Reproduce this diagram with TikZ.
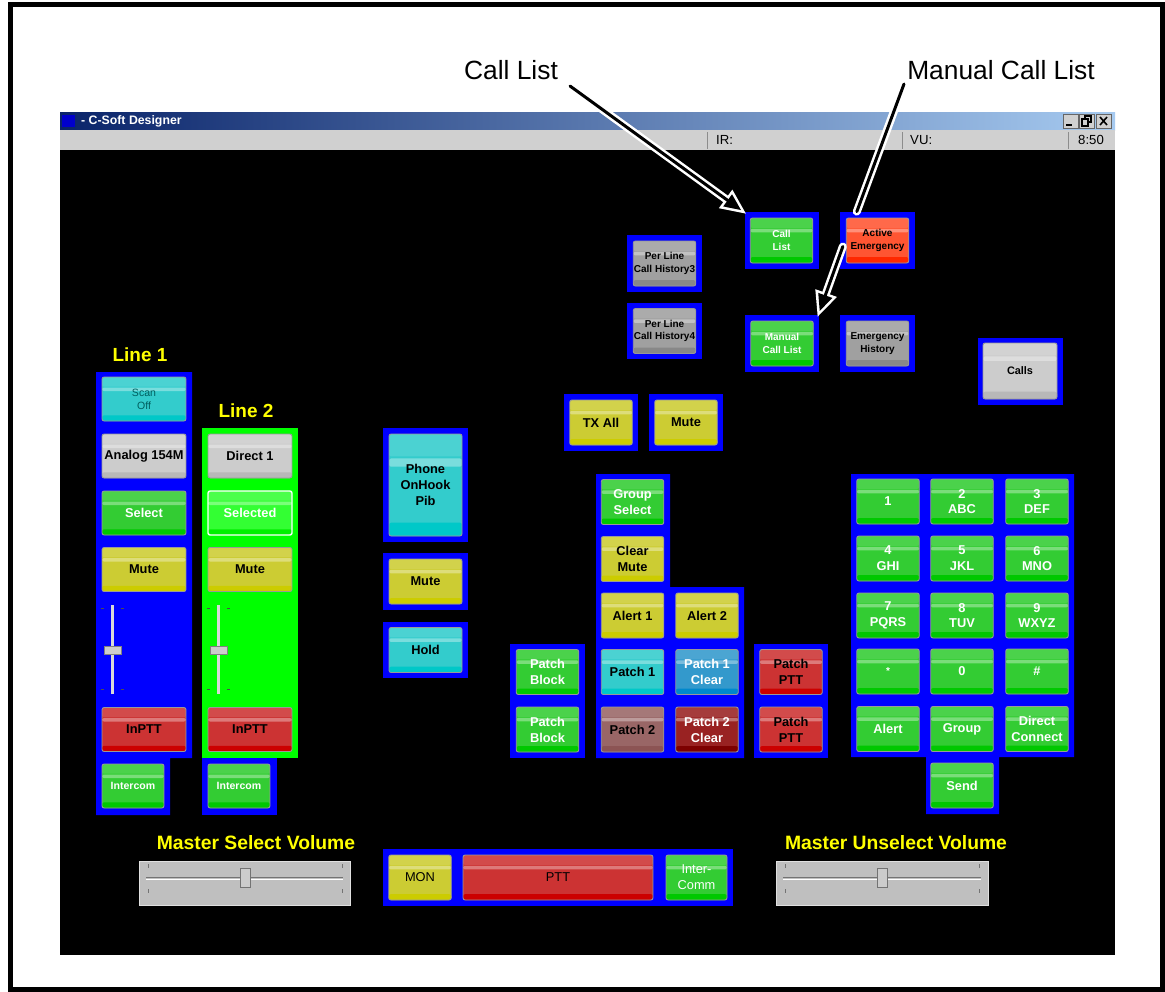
\documentclass[tikz,border=0pt]{standalone}
\usepackage{fontspec}
\setmainfont{Liberation Sans}
\usetikzlibrary{positioning, arrows.meta, calc}
\definecolor{BtnGreen}{RGB}{51,204,51}
\definecolor{GreenLow}{RGB}{0,200,0}
\definecolor{BtnYellow}{RGB}{204,204,51}
\definecolor{YellowLow}{RGB}{204,204,0}
\definecolor{BtnCyan}{RGB}{51,204,204}
\definecolor{CyanLow}{RGB}{0,200,200}
\definecolor{BtnRed}{RGB}{204,51,51}
\definecolor{RedLow}{RGB}{204,0,0}
\definecolor{BtnGray}{RGB}{160,160,160}
\definecolor{GrayLow}{RGB}{136,136,136}
\definecolor{BtnLight}{RGB}{204,204,204}
\definecolor{LightLow}{RGB}{184,184,184}
\definecolor{BtnOrange}{RGB}{255,85,50}
\definecolor{OrangeLow}{RGB}{255,40,0}
\definecolor{BtnBlue}{RGB}{51,153,204}
\definecolor{BlueLow}{RGB}{0,136,204}
\definecolor{BtnBrown}{RGB}{153,102,102}
\definecolor{BrownLow}{RGB}{140,84,84}
\definecolor{BtnMaroon}{RGB}{153,34,34}
\definecolor{MaroonLow}{RGB}{125,0,0}
\definecolor{BtnLime}{RGB}{51,255,51}
\definecolor{LimeLow}{RGB}{0,240,0}
\definecolor{ScanText}{RGB}{0,95,95}
\definecolor{PanelBlue}{RGB}{0,0,255}
\definecolor{PanelLime}{RGB}{0,255,0}
\definecolor{LabelYellow}{RGB}{255,255,0}
\definecolor{TitleDark}{RGB}{10,36,106}
\definecolor{TitleLight}{RGB}{166,202,240}
\definecolor{StatusGray}{RGB}{208,208,208}
\newcommand\btnfont{\fontsize{7.3}{9}\selectfont\bfseries}
\newcommand\tinyfont{\fontsize{5.7}{7.2}\selectfont\bfseries}
\newcommand\lblfont{\fontsize{10.8}{12}\selectfont\bfseries}

\begin{document}
\begin{tikzpicture}[x=0.02cm, y=-0.02cm, every node/.style={font=\btnfont},
    btn/.style 2 args={rectangle, rounded corners=1.2pt, draw=black!40, line width=0.5pt,
      fill=#1, minimum width=1.25cm, minimum height=0.9cm, inner sep=0pt, align=center,
      path picture={
        \fill[white, opacity=0.12] (path picture bounding box.north west) rectangle ($(path picture bounding box.north east)!0.22!(path picture bounding box.south east)$);
        \fill[white, opacity=0.35] ($(path picture bounding box.north west)!0.24!(path picture bounding box.south west)$) rectangle ($(path picture bounding box.north east)!0.32!(path picture bounding box.south east)$);
        \fill[#2] ($(path picture bounding box.north west)!0.87!(path picture bounding box.south west)$) rectangle (path picture bounding box.south east);
      }},
    gbtn/.style={btn={BtnGreen}{GreenLow}, text=white},
    ybtn/.style={btn={BtnYellow}{YellowLow}, text=black},
    cbtn/.style={btn={BtnCyan}{CyanLow}, text=black},
    rbtn/.style={btn={BtnRed}{RedLow}, text=black},
    graybtn/.style={btn={BtnGray}{GrayLow}, text=black},
    lbtn/.style={btn={BtnLight}{LightLow}, text=black},
    obtn/.style={btn={BtnOrange}{OrangeLow}, text=black},
    bbtn/.style={btn={BtnBlue}{BlueLow}, text=white},
    brbtn/.style={btn={BtnBrown}{BrownLow}, text=black},
    mbtn/.style={btn={BtnMaroon}{MaroonLow}, text=white},
    selbtn/.style={btn={BtnLime}{LimeLow}, text=white, draw=white, line width=0.8pt},
    linebtn/.style={minimum width=1.68cm, minimum height=0.88cm},
    midbtn/.style={minimum width=1.46cm},
    panel/.style={fill=PanelBlue},
    yellowlbl/.style={font=\lblfont, text=LabelYellow},
    calloutw/.style={white, line width=0.16cm, line cap=round},
    calloutb/.style={black, line width=0.06cm, line cap=round}]

  \useasboundingbox (0,0) rectangle (1165,991);
  \fill[white] (0,0) rectangle (1165,991);
  \draw[line width=0.1cm] (10.5,4.5) rectangle (1162.5,989.5);

  % Window
  \shade[left color=TitleDark, right color=TitleLight] (60,112) rectangle (1115,130);
  \fill[StatusGray] (60,130) rectangle (1115,150);
  \fill[black] (60,150) rectangle (1115,955);
  \fill[blue!80!black] (62,115) rectangle (75,127);
  \node[anchor=west, text=white, font=\fontsize{7}{8}\selectfont\bfseries] (titletxt) at (75,121) {- C-Soft Designer};
  \filldraw[fill=StatusGray, draw=black!60] (1063,114) rectangle (1078,128);
  \filldraw[fill=StatusGray, draw=black!60] (1079,114) rectangle (1094,128);
  \filldraw[fill=StatusGray, draw=black!60] (1096,114) rectangle (1111,128);
  \draw[line width=1.2pt] (1066,125) -- (1072,125);
  \draw[line width=0.6pt] (1085,116) rectangle (1091,122);
  \filldraw[fill=StatusGray, draw=black, line width=0.6pt] (1082,119) rectangle (1088,126);
  \draw[line width=0.9pt] (1100,117) -- (1107,125) (1107,117) -- (1100,125);
  \draw[black!45] (707,132) -- (707,149) (902,132) -- (902,149) (1068,132) -- (1068,149);
  \node[anchor=west, font=\fontsize{7.5}{9}\selectfont] (irlbl) at (710,140) {IR:};
  \node[anchor=west, font=\fontsize{7.5}{9}\selectfont] (vulbl) at (904,140) {VU:};
  \node[anchor=west, font=\fontsize{7.5}{9}\selectfont] (clocklbl) at (1072,140) {8:50};

  % Panels
  \fill[panel] (745,212) rectangle (819,269);
  \fill[panel] (840,212) rectangle (915,269);
  \fill[panel] (627,235) rectangle (702,292);
  \fill[panel] (627,303) rectangle (702,359);
  \fill[panel] (745,315) rectangle (819,372);
  \fill[panel] (840,315) rectangle (915,372);
  \fill[panel] (978,338) rectangle (1063,405);
  \fill[panel] (96,372) -- (192,372) -- (192,758) -- (170,758) -- (170,815) -- (96,815) -- cycle;
  \fill[PanelLime] (202,428) rectangle (298,758);
  \fill[panel] (202,758) rectangle (277,815);
  \fill[panel] (383,428) rectangle (468,542);
  \fill[panel] (383,553) rectangle (468,610);
  \fill[panel] (383,622) rectangle (468,678);
  \fill[panel] (564,394) rectangle (638,451);
  \fill[panel] (649,394) rectangle (723,451);
  \fill[panel] (596,474) -- (670,474) -- (670,587) -- (744,587) -- (744,758) -- (596,758) -- cycle;
  \fill[panel] (510,644) rectangle (585,758);
  \fill[panel] (754,644) rectangle (828,758);
  \fill[panel] (851,474) -- (1074,474) -- (1074,757) -- (999,757) -- (999,814) -- (926,814) -- (926,757) -- (851,757) -- cycle;
  \fill[panel] (383,849) rectangle (733,906);

  % Call buttons
  \node[gbtn, font=\tinyfont] (calllist) at (781.5,240.5) {Call\\List};
  \node[obtn, font=\tinyfont] (activeem) at (877.5,240.5) {Active\\Emergency};
  \node[graybtn, font=\tinyfont] (hist3) at (664.5,263.5) {Per Line\\Call History3};
  \node[graybtn, font=\tinyfont] (hist4) at (664.5,331) {Per Line\\Call History4};
  \node[gbtn, font=\tinyfont] (manual) at (782,343.5) {Manual\\Call List};
  \node[graybtn, font=\tinyfont] (emhist) at (877.5,343.5) {Emergency\\History};
  \node[lbtn, font=\fontsize{6.2}{7.4}\selectfont\bfseries, minimum width=1.48cm, minimum height=1.12cm] (calls) at (1020,371) {Calls};

  % Line 1
  \node[yellowlbl] (line1lbl) at (140,355) {Line 1};
  \node[cbtn, linebtn, text=ScanText, font=\fontsize{6}{7.4}\selectfont] (scan) at (144,399) {Scan\\Off};
  \node[lbtn, linebtn] (analog) at (144,456) {Analog 154M};
  \node[gbtn, linebtn] (select1) at (144,513) {Select};
  \node[ybtn, linebtn] (mute1) at (144,569.5) {Mute};
  \draw[black!15, line width=1.5pt] (112.5,605) -- (112.5,694);
  \filldraw[fill=black!20, draw=black!50] (104,646) rectangle (121,654);
  \draw[black!70] (101,608) -- (104,608) (121,608) -- (124,608) (101,689) -- (104,689) (121,689) -- (124,689);
  \node[rbtn, linebtn] (inptt1) at (144,729.5) {InPTT};
  \node[gbtn, minimum width=1.24cm, minimum height=0.88cm, font=\fontsize{6}{7.4}\selectfont\bfseries] (intercom1) at (133,786) {Intercom};

  % Line 2
  \node[yellowlbl] (line2lbl) at (246,411) {Line 2};
  \node[lbtn, linebtn] (direct1) at (250,456) {Direct 1};
  \node[selbtn, linebtn] (select2) at (250,513) {Selected};
  \node[ybtn, linebtn] (mute2) at (250,569.5) {Mute};
  \draw[black!15, line width=1.5pt] (218.5,605) -- (218.5,694);
  \filldraw[fill=black!20, draw=black!50] (210,646) rectangle (227,654);
  \draw[black!70] (207,608) -- (210,608) (227,608) -- (230,608) (207,689) -- (210,689) (227,689) -- (230,689);
  \node[rbtn, linebtn] (inptt2) at (250,729.5) {InPTT};
  \node[gbtn, minimum width=1.24cm, minimum height=0.88cm, font=\fontsize{6}{7.4}\selectfont\bfseries] (intercom2) at (239,786) {Intercom};

  % Phone column
  \node[cbtn, midbtn, minimum height=2.04cm] (phone) at (425.5,485) {Phone\\OnHook\\Pib};
  \node[ybtn, midbtn] (mute3) at (425.5,581.5) {Mute};
  \node[cbtn, midbtn] (hold) at (425.5,650) {Hold};

  % Group and patch
  \node[ybtn] (txall) at (601,422.5) {TX All};
  \node[ybtn] (mute4) at (686,422.5) {Mute};
  \node[gbtn] (grpsel) at (632.5,502) {Group\\Select};
  \node[ybtn] (clrmute) at (632.5,559) {Clear\\Mute};
  \node[ybtn] (alert1) at (632.5,615.5) {Alert 1};
  \node[ybtn] (alert2) at (707,615.5) {Alert 2};
  \node[cbtn] (patch1) at (632.5,672) {Patch 1};
  \node[bbtn] (patch1clr) at (707,672) {Patch 1\\Clear};
  \node[brbtn] (patch2) at (632.5,729.5) {Patch 2};
  \node[mbtn] (patch2clr) at (707,729.5) {Patch 2\\Clear};
  \node[gbtn] (block1) at (547.5,672) {Patch\\Block};
  \node[gbtn] (block2) at (547.5,729.5) {Patch\\Block};
  \node[rbtn] (pptt1) at (791,672) {Patch\\PTT};
  \node[rbtn] (pptt2) at (791,729.5) {Patch\\PTT};

  % Keypad
  \node[gbtn] (key1) at (888,501.5) {1};
  \node[gbtn] (key2) at (962,501.5) {2\\ABC};
  \node[gbtn] (key3) at (1037,501.5) {3\\DEF};
  \node[gbtn] (key4) at (888,558.5) {4\\GHI};
  \node[gbtn] (key5) at (962,558.5) {5\\JKL};
  \node[gbtn] (key6) at (1037,558.5) {6\\MNO};
  \node[gbtn] (key7) at (888,615.5) {7\\PQRS};
  \node[gbtn] (key8) at (962,615.5) {8\\TUV};
  \node[gbtn] (key9) at (1037,615.5) {9\\WXYZ};
  \node[gbtn, font=\tinyfont] (keystar) at (888,671.5) {*};
  \node[gbtn] (key0) at (962,671.5) {0};
  \node[gbtn] (keyhash) at (1037,671.5) {\#};
  \node[gbtn] (keyalert) at (888,729) {Alert};
  \node[gbtn] (keygroup) at (962,729) {Group};
  \node[gbtn] (keydirect) at (1037,729) {Direct\\Connect};
  \node[gbtn] (keysend) at (962,785.5) {Send};

  % Bottom bar
  \node[yellowlbl, font=\fontsize{11}{12}\selectfont\bfseries] (mselbl) at (256,843) {Master Select Volume};
  \filldraw[fill=black!25, draw=black!12] (139,861) rectangle (350,905);
  \draw[black!55] (146,877) -- (343,877);
  \draw[white] (146,879.5) -- (343,879.5);
  \draw[black!55] (148,864) -- (148,868) (342,864) -- (342,868) (148,889) -- (148,893) (342,889) -- (342,893);
  \filldraw[fill=black!20, draw=black!55] (240,868) rectangle (250,887);
  \node[ybtn, font=\fontsize{7.3}{9}\selectfont] (mon) at (420,877.5) {MON};
  \node[rbtn, minimum width=3.8cm, font=\fontsize{7.3}{9}\selectfont] (ptt) at (558,877.5) {PTT};
  \node[gbtn, minimum width=1.22cm, font=\fontsize{7.3}{9}\selectfont] (intercomm) at (696.5,877.5) {Inter-\\Comm};
  \node[yellowlbl, font=\fontsize{11}{12}\selectfont\bfseries] (munslbl) at (896,843) {Master Unselect Volume};
  \filldraw[fill=black!25, draw=black!12] (776,861) rectangle (988,905);
  \draw[black!55] (783,877) -- (981,877);
  \draw[white] (783,879.5) -- (981,879.5);
  \draw[black!55] (785,864) -- (785,868) (979,864) -- (979,868) (785,889) -- (785,893) (979,889) -- (979,893);
  \filldraw[fill=black!20, draw=black!55] (877,868) rectangle (887,887);

  % Callouts
  \node[font=\fontsize{15}{18}\selectfont] (calllistlbl) at (511,70) {Call List};
  \node[font=\fontsize{15}{18}\selectfont] (manuallbl) at (1001,70) {Manual Call List};
  \coordinate (cltail) at (570,86);
  \coordinate (mltail) at (904,84);
  \draw[calloutw, -{Triangle[length=0.5cm, width=0.46cm, line width=0pt]}] (cltail) -- ($(calllist.north west)+(-4,-4)$);
  \draw[calloutb, shorten >=0.12cm, -{Triangle[length=0.33cm, width=0.3cm, line width=0pt]}] (cltail) -- ($(calllist.north west)+(-4,-4)$);
  \draw[calloutw] (mltail) -- ($(activeem.north west)+(11,-6)$);
  \draw[calloutb] (mltail) -- ($(activeem.north west)+(11,-6)$);
  \draw[calloutw, -{Triangle[length=0.5cm, width=0.46cm, line width=0pt]}] ($(activeem.west)+(-3,6)$) -- ($(manual.north east)+(4,-4)$);
  \draw[calloutb, shorten >=0.12cm, -{Triangle[length=0.33cm, width=0.3cm, line width=0pt]}] ($(activeem.west)+(-3,6)$) -- ($(manual.north east)+(4,-4)$);
\end{tikzpicture}
\end{document}
